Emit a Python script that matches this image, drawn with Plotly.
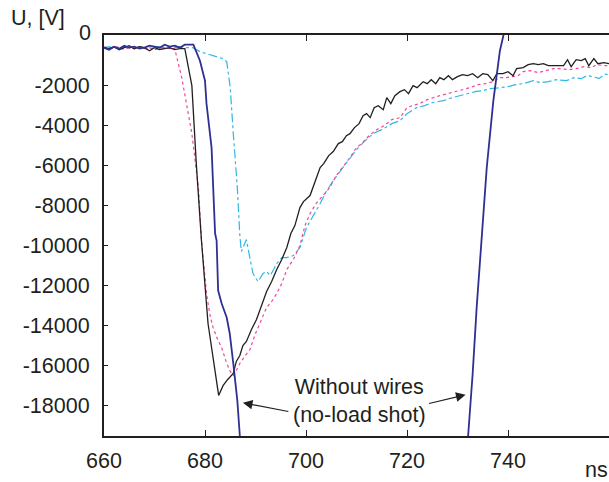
import plotly.graph_objects as go

# --- data (time in ns, voltage in V) ---
t_black = [660, 661, 662, 663, 664, 665, 666, 667, 668, 669, 670, 671, 672, 673, 674, 675, 676,
           677.4, 678.3, 679.3, 680.6, 681.6, 682.7, 683.6, 684.5, 685.6, 686.2, 686.9, 687.5,
           688.2, 689.2, 690.2, 691.2, 692.2, 693.2, 694.2, 695.2, 696.2, 697.0, 697.8, 698.8,
           699.5, 700.8, 701.8, 702.8, 703.5, 704.5, 705.4, 706.4, 707.2, 708.0, 708.7, 709.6,
           710.5, 711.3, 712.0, 712.7, 713.5, 714.3, 715.3, 716.0, 716.8, 717.6, 718.6, 719.5,
           720.3, 721.2, 722.0, 723.2, 724.0, 724.8, 725.7, 726.5, 727.3, 728.2, 729.0, 730.0,
           731.0, 732.0, 733.0, 734.0, 735.0, 736.0, 737.0, 737.8, 739.0, 740.0, 741.0, 741.7,
           743.0, 744.0, 745.0, 746.0, 747.0, 748.0, 749.0, 750.0, 751.0, 751.8, 752.5, 753.5,
           754.5, 755.3, 756.0, 757.0, 757.8, 759.0, 760.0]
u_black = [-100, -150, -50, -200, -100, 0, -150, -50, -100, -250, -100, -200, -150, -100, -200, -150, -150,
           -2000, -6000, -9750, -13900, -15600, -17500, -17000, -16700, -16400, -15800, -15500, -15000,
           -14800, -14200, -13700, -13000, -12300, -11800, -11200, -10700, -10100, -9400, -9000, -8100,
           -7800, -7500, -6800, -6100, -5900, -5500, -5300, -4900, -4800, -4500, -4400, -4100,
           -3900, -3500, -3400, -3600, -3100, -3000, -3200, -2600, -2900, -2500, -2300, -2200,
           -2400, -2000, -2100, -1800, -1900, -1700, -1900, -1600, -1700, -1500, -1700, -1550,
           -1450, -1500, -1400, -1600, -1400, -1450, -1750, -1400, -1400, -1300, -1500, -1150,
           -1100, -950, -900, -950, -900, -1000, -1000, -1000, -1000, -700, -1050, -700,
           -750, -650, -1000, -650, -900, -850, -900]

t_magenta = [660, 661, 662, 663, 664, 665, 666, 667, 668, 669, 670, 671, 672, 673, 674,
             675.4, 676.4, 677.4, 678.7, 679.3, 680.3, 681.0, 681.6, 682.5, 683.3, 684.3, 685.0,
             685.6, 686.3, 686.9, 688.0, 688.9, 690.0, 690.9, 692.2, 693.2, 694.2, 695.2, 696.2,
             697.5, 698.8, 699.8, 700.8, 702.0, 703.0, 704.7, 706.0, 707.5, 708.7, 710.0, 711.0,
             712.5, 714.0, 715.5, 717.0, 718.6, 720.0, 721.0, 722.5, 724.0, 725.1, 726.5, 728.0,
             729.5, 731.0, 732.5, 734.0, 735.5, 737.0, 738.4, 739.5, 741.0, 742.0, 743.0, 744.5,
             746.0, 747.5, 749.0, 750.3, 752.0, 753.5, 755.0, 756.5, 757.5, 759.2, 760.0]
u_magenta = [-50, -150, -100, -50, -200, -100, -150, -50, -150, -100, -200, -150, -100, -150, -150,
             -1600, -3000, -4400, -7100, -9750, -12400, -13500, -14100, -14700, -15100, -15900, -16300,
             -16500, -16200, -15900, -15500, -15200, -14400, -13900, -13100, -12800, -12400, -11900, -11200,
             -10700, -10000, -9000, -8400, -7900, -7600, -7100, -6500, -6000, -5600, -5100, -4900,
             -4500, -4200, -4000, -3700, -3600, -3100, -3000, -2900, -2700, -2600, -2500, -2400,
             -2300, -2200, -2100, -1950, -1900, -1800, -1600, -1600, -1550, -1500, -1300, -1250,
             -1350, -1250, -1150, -1150, -1200, -1150, -1050, -1100, -950, -1000, -1000]

t_cyan = [660, 661, 662, 663, 664, 665, 666, 667, 668, 669, 670, 671, 672, 673, 674, 675, 676, 677.6,
          679.0, 681.0, 683.6, 684.3, 685.0, 685.6, 686.4, 686.9, 687.2, 687.7, 688.2, 688.8, 689.5,
          690.5, 691.5, 692.2, 692.9, 693.6, 694.2, 695.2, 696.2, 697.5, 698.8, 700.1, 701.5, 702.8,
          704.0, 705.4, 707.0, 708.7, 710.0, 711.5, 713.3, 715.0, 717.0, 718.6, 720.0, 721.9, 723.5,
          725.0, 727.2, 729.0, 731.8, 733.5, 735.0, 736.5, 738.4, 740.0, 741.5, 743.0, 745.0, 746.5,
          748.0, 749.5, 751.6, 753.0, 754.5, 755.6, 757.0, 758.0, 759.2, 760.0]
u_cyan = [-100, -50, -150, -100, -50, -100, -150, -50, -100, -150, -100, -50, -100, -150, -100, -50, -100, -100,
          -300, -450, -650, -800, -2100, -4400, -7100, -9500, -10300, -10000, -9700, -10500, -11400,
          -11800, -11400, -11300, -11500, -11200, -10900, -10600, -10600, -10500, -10100, -9100, -8500, -7900,
          -7300, -6750, -6200, -5600, -5200, -4800, -4400, -4200, -3900, -3750, -3400, -3100, -3000,
          -2850, -2750, -2600, -2420, -2300, -2250, -2150, -2100, -2050, -1950, -1900, -1750, -1850,
          -1800, -1700, -1750, -1600, -1650, -1500, -1550, -1650, -1420, -1450]

# no-load shot: leaves the plot at the bottom and comes back in near 732 ns
t_navy = [660, 661, 662, 663, 664, 665, 666, 667, 668, 669, 670, 671, 672, 673, 674, 675, 676, 677.7,
          679.0, 680.0, 680.3, 681.3, 682.0, 682.3, 682.6, 683.3, 684.3, 684.9, 685.6, 686.4, 686.9,
          None,
          732.1, 733.0, 733.8, 734.8, 735.8, 737.1, 738.4, 739.4]
u_navy = [-100, -200, -50, -150, 0, -100, -50, -150, -100, 0, -50, -100, 50, -50, 0, -100, 50, 50,
          -750, -1750, -2900, -5100, -9400, -9750, -12250, -12900, -13600, -14400, -15900, -17750, -19530,
          None,
          -19530, -16420, -13080, -9750, -6080, -2750, -250, 850]

y_ticks = [-18000, -16000, -14000, -12000, -10000, -8000, -6000, -4000, -2000]
x_ticks = [660, 680, 700, 720, 740]

FONT = "Liberation Sans, Arial, sans-serif"
INK = "#231f20"
FS = 21.5

fig = go.Figure()
fig.add_trace(go.Scatter(x=t_cyan, y=u_cyan, mode="lines",
                         line=dict(color="#2eb8e6", width=1.2, dash="dashdot")))
fig.add_trace(go.Scatter(x=t_magenta, y=u_magenta, mode="lines",
                         line=dict(color="#f0479b", width=1.2, dash="dot")))
fig.add_trace(go.Scatter(x=t_black, y=u_black, mode="lines",
                         line=dict(color=INK, width=1.3)))
fig.add_trace(go.Scatter(x=t_navy, y=u_navy, mode="lines", connectgaps=False,
                         line=dict(color="#2e3192", width=1.8)))

# text and the two arrows pointing at the no-load curve
fig.add_annotation(x=710.5, y=-17800, text="Without wires<br>(no-load shot)", showarrow=False,
                   font=dict(size=FS, color=INK, family=FONT), align="center")
fig.add_annotation(x=687.5, y=-17870, ax=47, ay=9, text="", showarrow=True,
                   arrowhead=2, arrowsize=1.6, arrowwidth=1.2, arrowcolor=INK)
fig.add_annotation(x=731.6, y=-17470, ax=-38, ay=9, text="", showarrow=True,
                   arrowhead=2, arrowsize=1.6, arrowwidth=1.2, arrowcolor=INK)

fig.add_annotation(xref="paper", yref="paper", x=-0.022, y=1.005, xanchor="right", yanchor="middle",
                   text="0", showarrow=False, font=dict(size=FS, color=INK, family=FONT))
fig.add_annotation(xref="paper", yref="paper", x=-0.188, y=1.042, xanchor="left", yanchor="middle",
                   text="U, [V]", showarrow=False, font=dict(size=FS, color=INK, family=FONT))
fig.add_annotation(xref="paper", yref="paper", x=0.948, y=-0.085, xanchor="left", yanchor="middle",
                   text="ns", showarrow=False, font=dict(size=FS, color=INK, family=FONT))

fig.update_layout(
    width=609, height=482,
    margin=dict(l=104, r=0, t=35, b=46),
    paper_bgcolor="white", plot_bgcolor="white",
    showlegend=False,
    font=dict(family=FONT, size=FS, color=INK),
    xaxis=dict(range=[660, 760], tickvals=x_ticks, ticktext=[str(v) for v in x_ticks],
               ticks="inside", ticklen=6, tickwidth=1.2, tickcolor=INK,
               showline=True, linewidth=2.2, linecolor=INK, mirror="ticks",
               ticklabelstandoff=4,
               showgrid=False, zeroline=False),
    yaxis=dict(range=[-19530, 535], tickvals=y_ticks, ticktext=[str(v) for v in y_ticks],
               ticks="inside", ticklen=4, tickwidth=1.2, tickcolor=INK,
               ticklabelstandoff=8,
               showline=True, linewidth=2.2, linecolor=INK,
               showgrid=False, zeroline=False),
    yaxis2=dict(range=[-19530, 535], overlaying="y", side="right", anchor="x",
                tickvals=[0] + y_ticks[::-1], showticklabels=False,
                ticks="inside", ticklen=4, tickwidth=1.2, tickcolor=INK,
                showline=False, showgrid=False, zeroline=False),
)

fig.write_html("out.html", config={"displayModeBar": False},
               post_script="document.body.style.margin='0';")
